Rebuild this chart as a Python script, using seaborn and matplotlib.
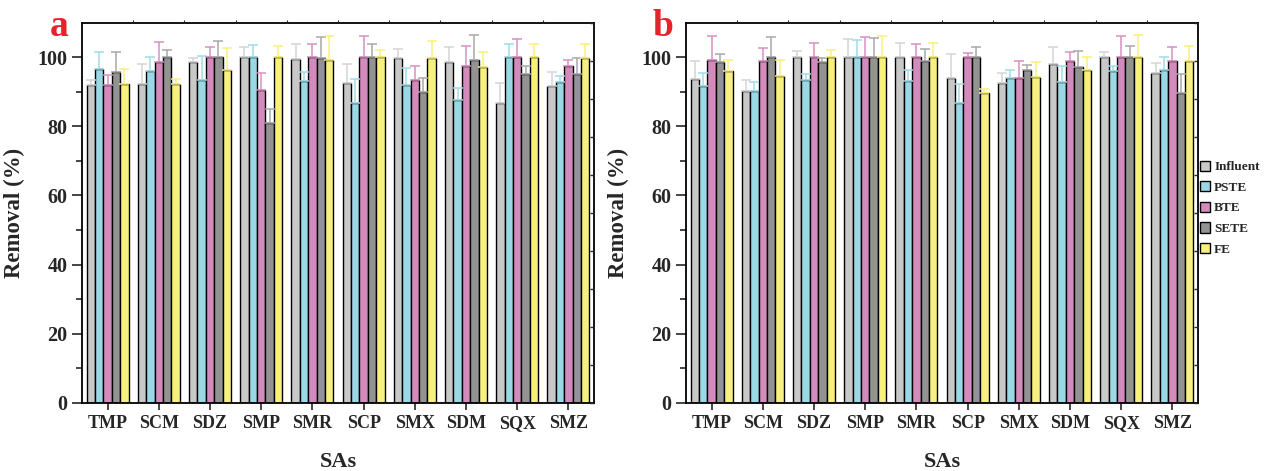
import numpy as np
import pandas as pd
import matplotlib
matplotlib.use("Agg")
import matplotlib.pyplot as plt
from matplotlib.patches import Patch
import seaborn as sns

# ---------------- data ----------------
categories = ["TMP", "SCM", "SDZ", "SMP", "SMR", "SCP", "SMX", "SDM", "SQX", "SMZ"]
stages = ["Influent", "PSTE", "BTE", "SETE", "FE"]

# panel a
a_influent = [91.8, 92.2, 98.5, 100, 99.5, 92.6, 99.8, 98.5, 86.6, 91.7]
a_pste     = [96.6, 96.0, 93.4, 100, 93.1, 86.8, 91.8, 87.5, 100, 92.7]
a_bte      = [91.8, 98.5, 100, 90.4, 99.9, 100, 93.5, 97.4, 100, 97.3]
a_sete     = [95.7, 100, 100, 81.0, 99.7, 100, 90.0, 99.3, 95.0, 95.0]
a_fe       = [92.2, 92.2, 96.4, 100, 99.1, 100, 99.7, 97.1, 100, 99.7]

a_influent_err = [1.7, 5.8, 1.2, 2.8, 4.3, 5.3, 2.5, 4.4, 5.8, 4.0]
a_pste_err     = [4.8, 4.0, 6.9, 3.6, 2.7, 7.0, 5.0, 3.5, 3.9, 1.7]
a_bte_err      = [2.9, 5.8, 2.9, 5.0, 3.9, 6.1, 4.0, 5.8, 5.1, 1.8]
a_sete_err     = [5.8, 2.0, 4.6, 4.0, 6.1, 3.8, 4.1, 7.0, 2.5, 4.6]
a_fe_err       = [4.4, 1.5, 6.1, 3.1, 7.0, 2.0, 5.0, 4.5, 3.9, 4.1]

# panel b
b_influent = [93.7, 90.2, 100, 100, 100, 94.0, 92.4, 98.1, 100, 95.3]
b_pste     = [91.7, 90.2, 93.4, 100, 93.2, 86.8, 94.1, 92.8, 96.1, 96.4]
b_bte      = [99.3, 98.9, 100, 100, 99.9, 100, 94.1, 99.0, 100, 99.0]
b_sete     = [98.5, 100, 98.6, 100, 98.9, 100, 96.4, 97.0, 100, 89.5]
b_fe       = [95.9, 94.6, 100, 100, 100, 89.6, 94.3, 96.4, 100, 99.0]

b_influent_err = [5.1, 3.3, 1.9, 5.3, 4.1, 6.9, 2.9, 4.8, 1.5, 3.1]
b_pste_err     = [3.8, 2.5, 1.6, 4.9, 3.0, 5.3, 2.3, 4.5, 1.2, 3.7]
b_bte_err      = [6.9, 3.6, 4.2, 5.8, 3.9, 1.3, 4.9, 2.6, 6.0, 3.8]
b_sete_err     = [2.5, 5.7, 1.0, 5.4, 3.5, 3.0, 1.2, 4.8, 3.3, 5.7]
b_fe_err       = [3.3, 4.7, 2.1, 6.1, 4.1, 1.1, 4.3, 3.5, 6.3, 4.1]

# ---------------- style ----------------
bar_colors = ["#C8C8C8", "#99D8E4", "#D38BBD", "#939393", "#F7EF7E"]
err_colors = ["#D4D4D4", "#9EDCE8", "#D98FC1", "#A8A8A8", "#F9F07A"]

sns.set_style("ticks")
plt.rcParams["font.family"] = ["Liberation Serif", "DejaVu Serif"]
plt.rcParams["font.weight"] = "bold"
plt.rcParams["axes.labelweight"] = "bold"


def long_df(series):
    rows = []
    for stage, vals in zip(stages, series):
        for cat, v in zip(categories, vals):
            rows.append({"SA": cat, "stage": stage, "val": v})
    return pd.DataFrame(rows)


fig = plt.figure(figsize=(12.72, 4.71), dpi=100)
ax_a = fig.add_axes([0.0645, 0.1444, 0.4025, 0.8078])
ax_b = fig.add_axes([0.5393, 0.1444, 0.4025, 0.8078])

panels = [
    (ax_a, [a_influent, a_pste, a_bte, a_sete, a_fe],
     [a_influent_err, a_pste_err, a_bte_err, a_sete_err, a_fe_err], "a"),
    (ax_b, [b_influent, b_pste, b_bte, b_sete, b_fe],
     [b_influent_err, b_pste_err, b_bte_err, b_sete_err, b_fe_err], "b"),
]

for ax, series, errs, letter in panels:
    df = long_df(series)
    sns.barplot(data=df, x="SA", y="val", hue="stage", hue_order=stages,
                order=categories, palette=bar_colors, saturation=1,
                width=0.82, edgecolor="black", linewidth=1.0,
                errorbar=None, legend=False, ax=ax, zorder=2)
    for cont, err, ec in zip(ax.containers, errs, err_colors):
        xs = [b.get_x() + b.get_width() / 2 for b in cont]
        ys = [b.get_height() for b in cont]
        ax.errorbar(xs, ys, yerr=[np.zeros(len(err)), err], fmt="none",
                    ecolor=ec, elinewidth=1.1, capsize=3.5, capthick=1.1,
                    zorder=3)

    ax.set_xlim(-0.5, len(categories) - 0.5)
    ax.set_ylim(0, 110)
    ax.set_yticks(np.arange(0, 101, 20))
    ax.set_yticks(np.arange(10, 100, 20), minor=True)
    ax.set_xlabel("SAs", fontsize=16, fontweight="bold", labelpad=14)
    ax.set_ylabel("Removal (%)", fontsize=16.5, fontweight="bold", labelpad=9)
    ax.tick_params(axis="y", which="major", direction="out", length=7,
                   width=1.2, labelsize=14.5)
    ax.tick_params(axis="y", which="minor", direction="out", length=4,
                   width=1.2)
    ax.tick_params(axis="x", which="major", direction="out", length=5,
                   width=1.2, labelsize=13, pad=4)
    for lab in ax.get_xticklabels() + ax.get_yticklabels():
        lab.set_fontweight("bold")
    for sp in ax.spines.values():
        sp.set_visible(True)
        sp.set_linewidth(1.3)
        sp.set_color("black")

    # mirrored right axis (inward ticks)
    tw = ax.twinx()
    tw.set_ylim(0, 110)
    tw.set_yticks(np.arange(0, 111, 11))
    tw.tick_params(axis="y", direction="in", length=3, width=1.0,
                   labelright=False)
    for sp in tw.spines.values():
        sp.set_visible(False)
    # top axis small ticks at category boundaries
    ty = ax.twiny()
    ty.set_xlim(ax.get_xlim())
    ty.set_xticks(np.arange(0.5, len(categories) - 1, 1.0))
    ty.tick_params(axis="x", direction="out", length=2, width=0.8,
                   labeltop=False)
    for sp in ty.spines.values():
        sp.set_visible(False)

    ax.text(-0.045, 0.99, letter, transform=ax.transAxes, color="#E8212A",
            fontsize=27, fontweight="bold", ha="center", va="center")

handles = [Patch(facecolor=c, edgecolor="black", linewidth=1.0)
           for c in bar_colors]
fig.legend(handles, stages, loc="center left", bbox_to_anchor=(0.939, 0.558),
           frameon=False, prop={"size": 9.5, "weight": "bold"},
           handlelength=0.8, handleheight=0.8, handletextpad=0.3,
           labelspacing=0.6, borderaxespad=0.0)

fig.savefig("out.png", dpi=100)
